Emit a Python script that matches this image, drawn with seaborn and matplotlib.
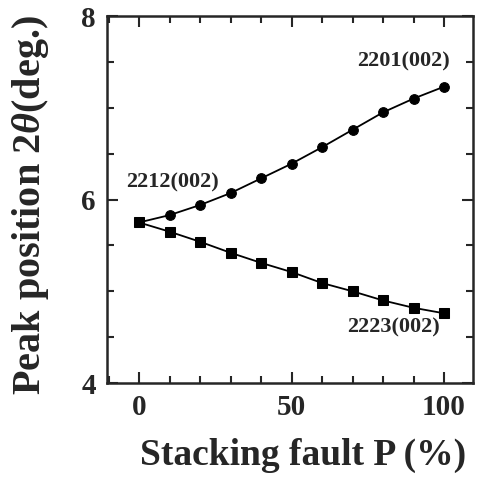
import pandas as pd
import matplotlib.pyplot as plt
import seaborn as sns
from matplotlib.ticker import MultipleLocator

# data
fault_p = [0, 10, 20, 30, 40, 50, 60, 70, 80, 90, 100]
peak_2201 = [5.75, 5.83, 5.94, 6.07, 6.23, 6.39, 6.57, 6.76, 6.95, 7.10, 7.23]
peak_2223 = [5.75, 5.65, 5.54, 5.42, 5.31, 5.21, 5.09, 5.00, 4.90, 4.82, 4.76]

df = pd.DataFrame({'P': fault_p + fault_p,
                   'peak': peak_2201 + peak_2223,
                   'phase': ['2201'] * len(fault_p) + ['2223'] * len(fault_p)})

sns.set_style('ticks')
plt.rcParams['font.family'] = ['Liberation Serif', 'DejaVu Serif']
plt.rcParams['font.weight'] = 'bold'
plt.rcParams['mathtext.fontset'] = 'custom'
plt.rcParams['mathtext.it'] = 'Liberation Serif:italic:bold'
plt.rcParams['mathtext.rm'] = 'Liberation Serif:bold'

fig = plt.figure(figsize=(4.78, 4.86), dpi=100)
ax = fig.add_axes([0.2238, 0.2119, 0.7657, 0.7551])

sns.lineplot(data=df[df.phase == '2201'], x='P', y='peak', ax=ax, color='black',
             marker='o', markersize=7, linewidth=1.3, markeredgecolor='black')
sns.lineplot(data=df[df.phase == '2223'], x='P', y='peak', ax=ax, color='black',
             marker='s', markersize=7, linewidth=1.3, markeredgecolor='black')

ax.set_xlim(-10.5, 109.5)
ax.set_ylim(4, 8)
ax.xaxis.set_major_locator(MultipleLocator(50))
ax.xaxis.set_minor_locator(MultipleLocator(10))
ax.yaxis.set_major_locator(MultipleLocator(2))
ax.yaxis.set_minor_locator(MultipleLocator(0.5))
ax.tick_params(which='both', direction='in', top=True, right=True, width=1.5)
ax.tick_params(which='major', length=8, labelsize=21, pad=8)
ax.tick_params(which='minor', length=5)
for s in ax.spines.values():
    s.set_linewidth(1.8)

ax.text(102, 7.5, '2201(002)', ha='right', va='center', fontsize=16, fontweight='bold')
ax.text(-4.3, 6.19, '2212(002)', ha='left', va='center', fontsize=16, fontweight='bold')
ax.text(98.7, 4.61, '2223(002)', ha='right', va='center', fontsize=16, fontweight='bold')

ax.set_xlabel('Stacking fault P (%)', fontsize=27, fontweight='bold')
ax.xaxis.set_label_coords(0.536, -0.15)
ax.set_ylabel(r'Peak position 2$\theta$(deg.)', fontsize=29, fontweight='bold')
ax.yaxis.set_label_coords(-0.153, 0.486)

fig.savefig('out.png', dpi=100)
